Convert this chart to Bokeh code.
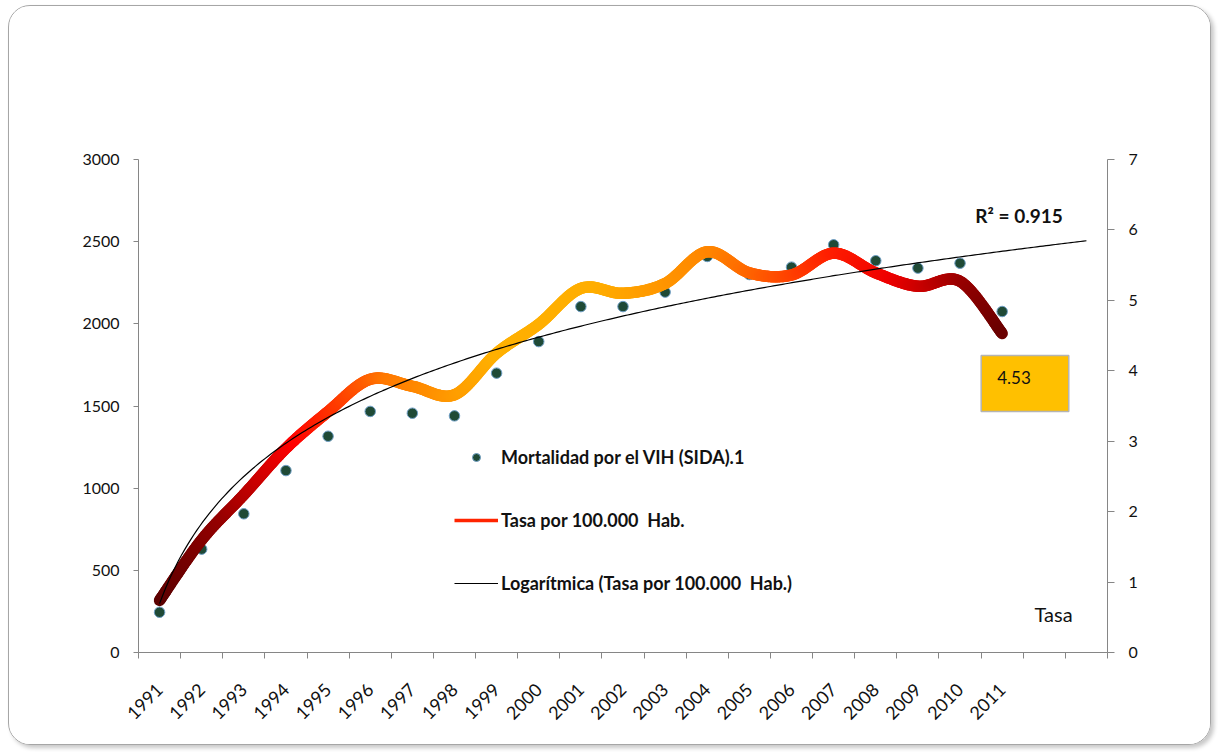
import numpy as np
from bokeh.plotting import figure
from bokeh.models import (Range1d, LinearAxis, FixedTicker, Legend, LegendItem,
                          Label, ColumnDataSource)
from bokeh.embed import file_html
from bokeh.resources import INLINE

# ---------------- data ----------------
years = [str(y) for y in range(1991, 2012)]
mortalidad = [245, 629, 844, 1107, 1316, 1467, 1456, 1440, 1700, 1892, 2105,
              2105, 2193, 2410, 2300, 2345, 2481, 2384, 2339, 2369, 2075]
tasa = [0.74, 1.60, 2.24, 2.90, 3.42, 3.88, 3.78, 3.66, 4.25, 4.66, 5.17,
        5.10, 5.24, 5.69, 5.39, 5.36, 5.67, 5.39, 5.20, 5.27, 4.53]
left_ticks = [0, 500, 1000, 1500, 2000, 2500, 3000]
right_ticks = [0, 1, 2, 3, 4, 5, 6, 7]
n_extra_categories = 2          # trend forecast: 2 periods forward
r2_text = "R\u00b2 = 0.915"
label_mortalidad = "Mortalidad por el VIH (SIDA).1"
label_tasa = "Tasa por 100.000  Hab."
label_trend = "Logarítmica (Tasa por 100.000  Hab.)"
right_title = "Tasa"

# gradient stops for the "Tasa" line (fraction along x, colour)
grad_stops = [(0.00, "#5a0000"), (0.08, "#9a0000"), (0.16, "#ff0000"),
              (0.27, "#ff7800"), (0.40, "#ffb000"), (0.52, "#ffae00"),
              (0.66, "#ff8400"), (0.80, "#ff1e00"), (0.87, "#ee0000"),
              (0.94, "#a80000"), (1.00, "#6a0000")]

FONT = "Lato"
AXIS_COLOR = "#868686"
TEXT_COLOR = "#111111"

# ---------------- helpers ----------------
xs = np.arange(len(years), dtype=float)


def smooth(xv, yv, steps=24):
    """Excel-like smoothed line (Catmull-Rom as cubic Bezier)."""
    P = np.column_stack([xv, yv]).astype(float)
    n = len(P)
    out = [P[0]]
    for i in range(n - 1):
        p0 = P[i - 1] if i > 0 else P[i]
        p1, p2 = P[i], P[i + 1]
        p3 = P[i + 2] if i + 2 < n else P[i + 1]
        c1 = p1 + (p2 - p0) / 6.0
        c2 = p2 - (p3 - p1) / 6.0
        for t in np.linspace(0, 1, steps + 1)[1:]:
            b = ((1 - t) ** 3) * p1 + 3 * ((1 - t) ** 2) * t * c1 \
                + 3 * (1 - t) * t * t * c2 + t ** 3 * p2
            out.append(b)
    out = np.array(out)
    return out[:, 0], out[:, 1]


def hex2rgb(h):
    h = h.lstrip("#")
    return np.array([int(h[i:i + 2], 16) for i in (0, 2, 4)], dtype=float)


def grad_color(f):
    for (f0, c0), (f1, c1) in zip(grad_stops[:-1], grad_stops[1:]):
        if f0 <= f <= f1:
            t = 0 if f1 == f0 else (f - f0) / (f1 - f0)
            c = hex2rgb(c0) * (1 - t) + hex2rgb(c1) * t
            return "#%02x%02x%02x" % tuple(int(round(v)) for v in c)
    return grad_stops[-1][1]


# ---------------- figure ----------------
n_cat = len(years) + n_extra_categories
p = figure(width=1203, height=740,
           x_range=Range1d(-0.5, n_cat - 0.5), y_range=Range1d(0, 3000),
           output_backend="svg", toolbar_location=None,
           min_border_left=129, min_border_right=105,
           min_border_top=153, min_border_bottom=94,
           background_fill_color="white", border_fill_color="white")
p.styles = {"margin-left": "8px", "margin-top": "5px",
            "border": "1.5px solid #a6a6a6", "border-radius": "22px",
            "box-shadow": "3px 3px 4px #c8c8c8", "overflow": "hidden"}
p.outline_line_color = None
p.xgrid.visible = False
p.ygrid.visible = False
p.extra_y_ranges = {"tasa": Range1d(0, 7)}

# x axis: ticks on category boundaries, labels at centres
xa = p.xaxis[0]
xa.ticker = FixedTicker(ticks=list(range(len(years))),
                        minor_ticks=[i - 0.5 for i in range(n_cat + 1)])
xa.major_label_overrides = {i: y for i, y in enumerate(years)}
xa.major_label_orientation = np.pi / 4
xa.major_tick_line_color = None
xa.major_tick_out = 0
xa.major_tick_in = 0
xa.minor_tick_line_color = AXIS_COLOR
xa.minor_tick_out = 6
xa.minor_tick_in = 0
xa.axis_line_color = AXIS_COLOR
xa.major_label_standoff = 28

ya = p.yaxis[0]
ya.ticker = FixedTicker(ticks=left_ticks)
ya.major_tick_out = 5
ya.major_tick_in = 0
ya.minor_tick_line_color = None
ya.major_tick_line_color = AXIS_COLOR
ya.axis_line_color = AXIS_COLOR
ya.major_label_standoff = 14

ra = LinearAxis(y_range_name="tasa", ticker=FixedTicker(ticks=right_ticks))
ra.major_tick_out = 7
ra.major_tick_in = 0
ra.minor_tick_line_color = None
ra.major_tick_line_color = AXIS_COLOR
ra.axis_line_color = AXIS_COLOR
ra.major_label_standoff = 14
p.add_layout(ra, "right")

for ax in (xa, ya, ra):
    ax.major_label_text_font = FONT
    ax.major_label_text_font_size = "16px"
    ax.major_label_text_color = TEXT_COLOR
xa.major_label_text_font_size = "18px"

# mortality points (left axis)
dots = p.scatter(xs, mortalidad, size=10.5, fill_color="#1f4a36",
                 line_color="#6f9fc6", line_width=1)

# smoothed gradient "Tasa" line (right axis)
sx, sy = smooth(xs, tasa)
x0, x1 = sx[:-1], sx[1:]
y0, y1 = sy[:-1], sy[1:]
span = xs[-1] - xs[0]
cols = [grad_color(((a + b) / 2 - xs[0]) / span) for a, b in zip(x0, x1)]
seg_src = ColumnDataSource(dict(x0=x0, y0=y0, x1=x1, y1=y1, c=cols))
p.segment("x0", "y0", "x1", "y1", source=seg_src, line_color="c",
          line_width=11.5, line_cap="round", y_range_name="tasa")
# proxy renderer for the legend sample only (no visible data)
tasa_leg = p.line(x=[xs[0], xs[-1]], y=[np.nan, np.nan], line_color="#ff2400",
                  line_width=3.5, y_range_name="tasa")

# logarithmic trend of the Tasa series, 2 periods forward
t = np.arange(1, len(tasa) + 1)
a, b = np.polyfit(np.log(t), tasa, 1)
tt = np.linspace(1, len(tasa) + n_extra_categories, 300)
trend = p.line(tt - 1, a * np.log(tt) + b, line_color="black",
               line_width=1.2, y_range_name="tasa")

# legend
legend = Legend(items=[LegendItem(label=label_mortalidad, renderers=[dots]),
                       LegendItem(label=label_tasa, renderers=[tasa_leg]),
                       LegendItem(label=label_trend, renderers=[trend])],
                location=(316, 58), orientation="vertical",
                background_fill_alpha=0, border_line_color=None,
                label_text_font=FONT, label_text_font_style="bold",
                label_text_font_size="18px", label_text_color=TEXT_COLOR,
                glyph_width=44, glyph_height=20, label_height=20,
                spacing=41, padding=0, margin=0, label_standoff=3)
p.add_layout(legend)

# annotations
p.add_layout(Label(x=20.4, y=6.2, y_range_name="tasa", text=r2_text,
                   text_align="center", text_baseline="middle",
                   text_font=FONT, text_font_style="bold",
                   text_font_size="19px", text_color=TEXT_COLOR))
p.add_layout(Label(x=21.22, y=0.55, y_range_name="tasa", text=right_title,
                   text_align="center", text_baseline="middle",
                   text_font=FONT, text_font_size="20px",
                   text_color=TEXT_COLOR))
p.add_layout(Label(x=xs[-1], y=tasa[-1], y_range_name="tasa",
                   text=f"{tasa[-1]:.2f}", x_offset=-21, y_offset=-50,
                   text_align="left", text_baseline="middle",
                   text_font=FONT, text_font_size="17px",
                   text_color=TEXT_COLOR,
                   background_fill_color="#FFC000",
                   border_line_color="#b4b4b4", border_line_width=1.5,
                   padding=(16, 38, 16, 27)))

open("out.html", "w").write(file_html(p, INLINE))
